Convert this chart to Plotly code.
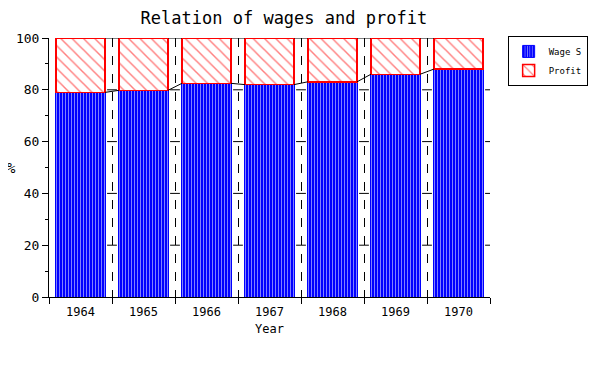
import plotly.graph_objects as go

years = ["1964", "1965", "1966", "1967", "1968", "1969", "1970"]
wages = [79.0, 79.8, 82.5, 82.0, 83.1, 86.0, 88.0]
profit = [100 - w for w in wages]
y_ticks = [0, 20, 40, 60, 80, 100]

BAR_W = 0.78
FONT = "DejaVu Sans Mono"
pos = list(range(len(years)))
bounds = [p - 0.5 for p in pos] + [pos[-1] + 0.5]

fig = go.Figure()
fig.add_trace(go.Bar(
    x=pos, y=wages, width=BAR_W, name="Wage S",
    marker=dict(color="#0000ff", line=dict(color="#0000ff", width=1),
                pattern=dict(shape="|", fgcolor="white", bgcolor="#0000ff",
                             size=3, solidity=0.34)),
))
fig.add_trace(go.Bar(
    x=pos, y=profit, width=BAR_W, name="Profit",
    marker=dict(color="white", line=dict(color="#ff0000", width=1.5),
                pattern=dict(shape="\\", fgcolor="#ff0000", bgcolor="white",
                             size=8, solidity=0.18)),
))

# connecting lines between bar tops (stack levels)
cx, cy = [], []
tops = [w + p for w, p in zip(wages, profit)]
for level in (wages, tops):
    for i in range(len(years) - 1):
        cx += [pos[i] + BAR_W / 2, pos[i + 1] - BAR_W / 2, None]
        cy += [level[i], level[i + 1], None]
fig.add_trace(go.Scatter(x=cx, y=cy, mode="lines", line=dict(color="black", width=1),
                         showlegend=False, hoverinfo="skip"))

# small ticks on the category boundary lines
tx, ty = [], []
for b in bounds[1:]:
    for t in y_ticks[1:-1]:
        tx.append(b)
        ty.append(t)
fig.add_trace(go.Scatter(x=tx, y=ty, mode="markers",
                         marker=dict(symbol="line-ew", size=7,
                                     line=dict(color="black", width=1)),
                         showlegend=False, hoverinfo="skip", cliponaxis=True))

fig.update_layout(
    width=605, height=378,
    margin=dict(l=41, r=123, t=30, b=89),
    barmode="stack", bargap=0.22,
    plot_bgcolor="white", paper_bgcolor="white",
    font=dict(family=FONT, color="black", size=12),
    title=dict(text="Relation of wages and profit", x=0.456, xanchor="center",
               y=0.99, yanchor="top", font=dict(family=FONT, size=17)),
    showlegend=True,
    legend=dict(x=1.04, y=1.008, xanchor="left", yanchor="top",
                bordercolor="black", borderwidth=1, bgcolor="white",
                font=dict(family=FONT, size=9), tracegroupgap=0,
                traceorder="normal", itemwidth=30),
    xaxis=dict(range=[bounds[0], bounds[-1]], tickvals=bounds,
               ticktext=["" for _ in bounds], ticks="outside", ticklen=6,
               tickcolor="black", showline=True, linecolor="black", linewidth=1,
               showgrid=True, gridcolor="black", griddash="dash", gridwidth=1,
               zeroline=False, automargin=False),
    xaxis2=dict(overlaying="x", side="bottom", range=[bounds[0], bounds[-1]],
                tickvals=pos, ticktext=years, ticks="", showgrid=False,
                showline=False, zeroline=False, tickfont=dict(size=12),
                automargin=False, ticklabelstandoff=6,
                title=dict(text="Year", font=dict(size=12), standoff=6)),
    yaxis=dict(range=[0, 100], tickvals=y_ticks, ticks="outside", ticklen=6,
               tickcolor="black", showline=True, linecolor="black", linewidth=1,
               showgrid=False, zeroline=False, tickfont=dict(size=13),
               automargin=False,
               minor=dict(dtick=10, tick0=0, ticks="outside", ticklen=3,
                          tickcolor="black", showgrid=False)),
    annotations=[dict(text="%", xref="paper", yref="paper", x=-0.084, y=0.5,
                      xanchor="center", yanchor="middle", showarrow=False,
                      font=dict(family=FONT, size=14))],
)
fig.add_trace(go.Scatter(x=[None], y=[None], xaxis="x2",
                         showlegend=False, hoverinfo="skip"))

fig.write_html("out.html")
